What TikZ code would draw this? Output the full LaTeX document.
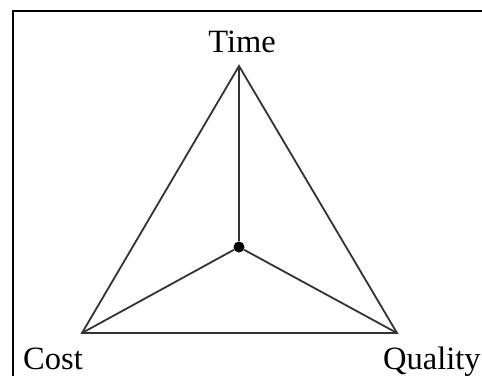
\documentclass[tikz,border=0pt]{standalone}
\usepackage{fontspec}
\setmainfont{Liberation Serif}
\usetikzlibrary{positioning}

\begin{document}
\begin{tikzpicture}[x=1pt, y=1pt, line join=miter,
    every node/.style={font=\fontsize{32.5}{36}\selectfont, inner sep=0pt},
    edge/.style={line width=1.8pt, black!80},
    hub/.style={circle, fill=black, minimum size=11pt}]
  \useasboundingbox (0,0) rectangle (482,376);
  % frame
  \draw[line width=2pt] (12.5,0) -- (12.5,365) -- (482,365);

  % corners of the triangle
  \coordinate (time) at (239,310);
  \coordinate (cost) at (82,43);
  \coordinate (quality) at (397,43);
  \node[hub] (ctr) at (239,129) {};

  \draw[edge] (time) -- (cost) -- (quality) -- cycle;
  \foreach \v in {time, cost, quality}
    \draw[edge] (ctr) -- (\v);

  % labels
  \node[anchor=base] (timelbl) at (242,324) {Time};
  \node[anchor=base west] (costlbl) at (23,7) {Cost};
  \node[anchor=base west] (qualitylbl) at (383,7) {Quality};
\end{tikzpicture}
\end{document}
